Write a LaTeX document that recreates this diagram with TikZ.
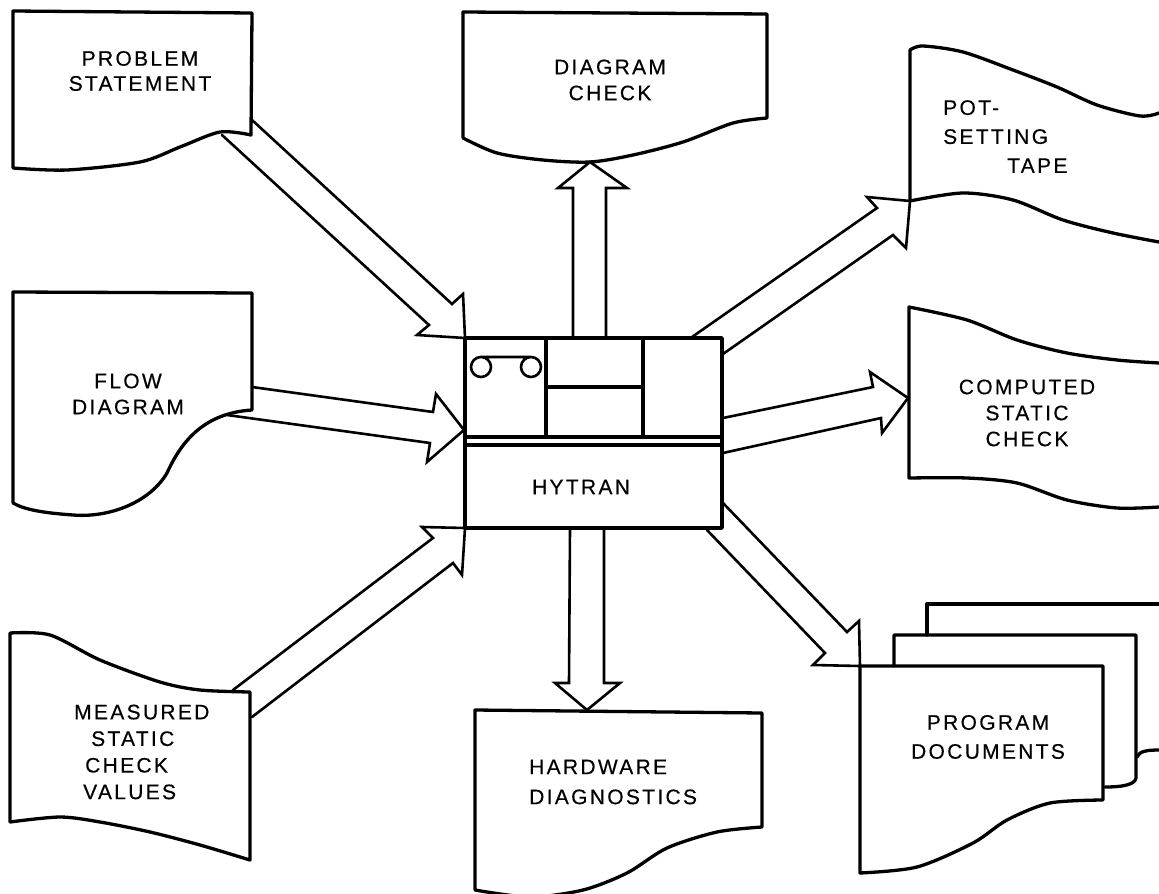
\documentclass[tikz,border=0pt]{standalone}
\usepackage{fontspec}
\setmainfont[LetterSpace=11,FakeBold=0.35]{Liberation Sans}
\begin{document}
\begin{tikzpicture}[x=1pt,y=-1pt,
  doc/.style={line width=3.3pt,line join=round,line cap=round,fill=none},
  blockarrow/.style={line width=2.6pt,line join=miter,line cap=round},
  unit/.style={line width=3.5pt,line join=round,line cap=round},
  reel/.style={line width=2.6pt},
  lbl/.style={font=\fontsize{21}{26}\selectfont,inner sep=0pt,align=center},
]
\useasboundingbox[fill=white] (0,0) rectangle (1159,894);

% central unit
\draw[unit] (465,338) rectangle (722,528);
\draw[unit] (465,437) -- (722,437) (465,445) -- (722,445);
\draw[unit] (546,338) -- (546,437) (643,338) -- (643,437) (546,387) -- (643,387);
\draw[reel] (481,367) circle (10) (531,367) circle (10) (481,357) -- (531,357);
\node[lbl] (hytran) at (581,487) {HYTRAN};

% documents
\draw[doc] (13,168) -- (13,11) -- (252,13) -- (251,135) -- plot[smooth] coordinates {(251,135) (220,132) (180,147) (140,162) (67,170) (13,168)};
\node[lbl,font=\fontsize{21}{25}\selectfont] (problem) at (140,71) {PROBLEM\\STATEMENT};

\draw[doc] (463,138) -- (463,12) -- (767,14) -- (767,118) -- plot[smooth] coordinates {(767,118) (733,123) (683,142) (633,155) (590,162) (543,160) (497,153) (463,138)};
\node[lbl] (dcheck) at (610,80) {DIAGRAM\\CHECK};

\draw[doc] (910,201) -- (910,50) -- plot[smooth] coordinates {(910,50) (923,46) (963,52) (1013,70) (1057,87) (1097,105) (1140,116) (1159,113)};
\draw[doc] plot[smooth] coordinates {(910,201) (963,193) (1013,200) (1063,220) (1113,233) (1159,242)};
\node[lbl,anchor=north west,align=left,font=\fontsize{21}{29}\selectfont] (pot) at (943,100) {POT-\\SETTING\\\hspace*{64pt}TAPE};

\draw[doc] plot[smooth] coordinates {(1159,363) (1117,360) (1067,353) (1017,340) (967,320) (909,307)} -- (909,478) -- plot[smooth] coordinates {(909,478) (967,478) (1017,483) (1067,500) (1117,508) (1159,507)};
\node[lbl] (computed) at (1027,413) {COMPUTED\\STATIC\\CHECK};

\draw[doc] (13,503) -- (13,292) -- (252,293) -- (252,410)
  .. controls (205,413) and (182,440) .. (167,473)
  .. controls (150,502) and (110,518) .. (73,515)
  .. controls (45,513) and (25,510) .. (13,503);
\node[lbl] (flow) at (128,394) {FLOW\\DIAGRAM};

\draw[doc] (10,822) -- (10,633) -- plot[smooth] coordinates {(10,633) (50,635) (100,660) (160,682) (200,690) (250,692)} -- (250,860) -- plot[smooth] coordinates {(250,860) (200,845) (150,832) (100,822) (60,817) (10,822)};
\node[lbl,anchor=west,align=left,font=\fontsize{21}{26.6}\selectfont] (measured) at (74,752) {MEASURED\\\hspace*{17pt}STATIC\\\hspace*{11pt}CHECK\\\hspace*{9pt}VALUES};

\draw[doc] (475,890) -- (475,710) -- (762,713) -- (762,827) -- plot[smooth] coordinates {(762,827) (717,832) (667,848) (627,873) (583,890) (530,897) (475,890)};
\node[lbl,anchor=west,align=left,font=\fontsize{21}{30}\selectfont] (hardware) at (529,782) {HARDWARE\\DIAGNOSTICS};

\draw[doc] (860,666) -- (860,873) -- plot[smooth] coordinates {(860,873) (917,867) (973,843) (1007,820) (1050,803) (1103,800)} -- (1103,666) -- cycle;
\draw[doc] (894,666) -- (894,635) -- (1136,635) -- (1136,778) .. controls (1135,784) and (1125,787) .. (1105,787);
\draw[doc] (927,635) -- (927,604) -- (1159,604);
\draw[doc] (1137,757) .. controls (1139,751) and (1148,750) .. (1159,750);
\node[lbl,font=\fontsize{21}{29}\selectfont] (program) at (988,737) {PROGRAM\\DOCUMENTS};

% block arrows
\coordinate (ps1) at (252,120); \coordinate (ps2) at (222,135);
\coordinate (in1) at (465,338); \coordinate (in2) at (464,430); \coordinate (in3) at (465,528);
\draw[blockarrow] (ps1) -- (452,304) -- (463,294) -- (in1) -- (417,335) -- (429,325) -- (ps2);

\coordinate (fd1) at (252,387); \coordinate (fd2) at (227,415);
\draw[blockarrow] (fd1) -- (433,412) -- (436,394) -- (in2) -- (427,462) -- (430,443) -- (fd2);

\coordinate (ms1) at (233,690); \coordinate (ms2) at (252,717);
\draw[blockarrow] (ms1) -- (433,538) -- (422,527) -- (in3) -- (462,575) -- (453,563) -- (ms2);

\coordinate (dc1) at (573,338); \coordinate (dc2) at (606,338); \coordinate (dctip) at (590,162);
\draw[blockarrow] (dc1) -- (573,188) -- (558,188) -- (dctip) -- (627,188) -- (606,188) -- (dc2);

\coordinate (hw1) at (570,528); \coordinate (hw2) at (604,528); \coordinate (hwtip) at (587,710);
\draw[blockarrow] (hw1) -- (569,683) -- (555,683) -- (hwtip) -- (620,683) -- (604,683) -- (hw2);

\coordinate (pt1) at (692,337); \coordinate (pt2) at (723,354); \coordinate (pttip) at (910,201);
\draw[blockarrow] (pt1) -- (877,208) -- (867,197) -- (pttip) -- (906,248) -- (893,235) -- (pt2);

\coordinate (cs1) at (723,418); \coordinate (cs2) at (723,453); \coordinate (cstip) at (908,398);
\draw[blockarrow] (cs1) -- (873,387) -- (870,372) -- (cstip) -- (882,433) -- (881,418) -- (cs2);

\coordinate (pd1) at (723,503); \coordinate (pd2) at (707,530); \coordinate (pdtip) at (860,666);
\draw[blockarrow] (pd1) -- (847,632) -- (859,621) -- (pdtip) -- (813,665) -- (825,653) -- (pd2);
\end{tikzpicture}
\end{document}
